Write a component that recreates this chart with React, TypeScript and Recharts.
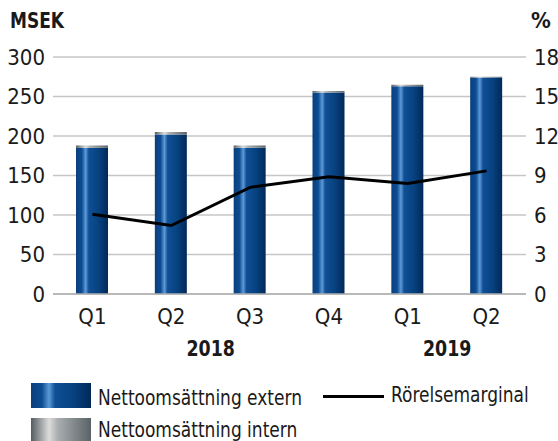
import { ComposedChart, Bar, Line, XAxis, YAxis, CartesianGrid } from "recharts";

const QUARTERS = ["Q1", "Q2", "Q3", "Q4", "Q1", "Q2"];
const EXTERN = [185, 202, 185, 255, 263, 274];
const INTERN = [3, 3, 3, 2, 2, 1];
const MARGIN = [6.05, 5.2, 8.1, 8.9, 8.4, 9.35];
const LEFT_TICKS = [0, 50, 100, 150, 200, 250, 300];
const RIGHT_TICKS = [0, 3, 6, 9, 12, 15, 18];
// year label sits between the two quarters starting at this index
const YEARS = [
  { label: "2018", index: 1 },
  { label: "2019", index: 4 },
];

const DATA = QUARTERS.map((q, i) => ({
  key: `${q}-${i}`,
  q,
  extern: EXTERN[i],
  intern: INTERN[i],
  marginal: MARGIN[i],
}));

const FONT = "'Liberation Sans Narrow', 'Arial Narrow', 'DejaVu Sans Condensed', sans-serif";
const TXT = "#1a1a1a";
const HALF_BAND = 39.4;
const SQUEEZE = 0.86;

function QuarterTick(props: any) {
  const { x, y, payload, index } = props;
  const year = YEARS.find((yr) => yr.index === index);
  return (
    <g>
      <text x={x} y={y + 22} textAnchor="middle" fill={TXT} fontSize={22} fontFamily={FONT}>
        {QUARTERS[index] ?? payload.value}
      </text>
      {year && (
        <text
          transform={`translate(${x + HALF_BAND},${y + 54}) scale(0.88,1)`}
          textAnchor="middle"
          fill={TXT}
          fontSize={22}
          fontWeight="bold"
          fontFamily={FONT}
        >
          {year.label}
        </text>
      )}
    </g>
  );
}

const squeezed = {
  display: "inline-block",
  transform: `scaleX(${SQUEEZE})`,
  transformOrigin: "0 0",
  whiteSpace: "nowrap" as const,
};

export default function App() {
  return (
    <div
      style={{
        position: "absolute",
        left: 0,
        top: 0,
        width: 558,
        height: 441,
        overflow: "hidden",
        background: "#fff",
        fontFamily: FONT,
        color: TXT,
      }}
    >
      <svg width={0} height={0} style={{ position: "absolute" }}>
        <defs>
          <linearGradient id="blueBar" x1="0" y1="0" x2="1" y2="0">
            <stop offset="0%" stopColor="#0b3f7c" />
            <stop offset="18%" stopColor="#0c4c93" />
            <stop offset="30%" stopColor="#5d9ad6" />
            <stop offset="40%" stopColor="#104f96" />
            <stop offset="70%" stopColor="#07427f" />
            <stop offset="100%" stopColor="#02285a" />
          </linearGradient>
          <linearGradient id="grayBar" x1="0" y1="0" x2="1" y2="0">
            <stop offset="0%" stopColor="#545c60" />
            <stop offset="30%" stopColor="#dcdcdc" />
            <stop offset="45%" stopColor="#a9adaf" />
            <stop offset="100%" stopColor="#596367" />
          </linearGradient>
        </defs>
      </svg>

      <div style={{ position: "absolute", left: 10, top: 8, fontSize: 22, fontWeight: "bold" }}>
        <span style={squeezed}>MSEK</span>
      </div>
      <div style={{ position: "absolute", left: 531, top: 8, fontSize: 22, fontWeight: "bold" }}>%</div>

      <div style={{ position: "absolute", left: 0, top: 0 }}>
        <ComposedChart
          width={558}
          height={370}
          data={DATA}
          margin={{ top: 57, right: 0, bottom: 0, left: 0 }}
          barCategoryGap={0}
        >
          <CartesianGrid vertical={false} stroke="#c6c6c6" strokeWidth={1.5} yAxisId="left" />
          <XAxis
            dataKey="key"
            height={76}
            axisLine={{ stroke: "#b0b0b0", strokeWidth: 1.5 }}
            tickLine={false}
            tick={<QuarterTick />}
            interval={0}
          />
          <YAxis
            yAxisId="left"
            domain={[0, 300]}
            ticks={LEFT_TICKS}
            width={53}
            axisLine={false}
            tickLine={false}
            tick={{ fill: TXT, fontSize: 22, fontFamily: FONT }}
          />
          <YAxis
            yAxisId="right"
            orientation="right"
            domain={[0, 18]}
            ticks={RIGHT_TICKS}
            width={32}
            axisLine={false}
            tickLine={false}
            tick={{ fill: TXT, fontSize: 22, fontFamily: FONT, textAnchor: "start" }}
          />
          <Bar yAxisId="left" dataKey="extern" stackId="s" fill="url(#blueBar)" barSize={32} isAnimationActive={false} />
          <Bar yAxisId="left" dataKey="intern" stackId="s" fill="url(#grayBar)" barSize={32} isAnimationActive={false} />
          <Line
            yAxisId="right"
            dataKey="marginal"
            type="linear"
            stroke="#000"
            strokeWidth={3}
            dot={false}
            activeDot={false}
            isAnimationActive={false}
          />
        </ComposedChart>
      </div>

      <div style={{ position: "absolute", left: 31, top: 383, width: 60, height: 25, background: "linear-gradient(90deg, #0b3f7c 0%, #0c4c93 18%, #5d9ad6 30%, #104f96 40%, #07427f 70%, #02285a 100%)" }} />
      <div style={{ position: "absolute", left: 98, top: 385, fontSize: 22, lineHeight: "26px" }}>
        <span style={squeezed}>Nettoomsättning extern</span>
      </div>
      <div style={{ position: "absolute", left: 31, top: 418, width: 60, height: 25, background: "linear-gradient(90deg, #545c60 0%, #dcdcdc 30%, #a9adaf 45%, #596367 100%)" }} />
      <div style={{ position: "absolute", left: 98, top: 417, fontSize: 22, lineHeight: "26px" }}>
        <span style={squeezed}>Nettoomsättning intern</span>
      </div>
      <div style={{ position: "absolute", left: 323, top: 395, width: 61, height: 2.5, background: "#000" }} />
      <div style={{ position: "absolute", left: 391, top: 382, fontSize: 22, lineHeight: "26px" }}>
        <span style={squeezed}>Rörelsemarginal</span>
      </div>
    </div>
  );
}
